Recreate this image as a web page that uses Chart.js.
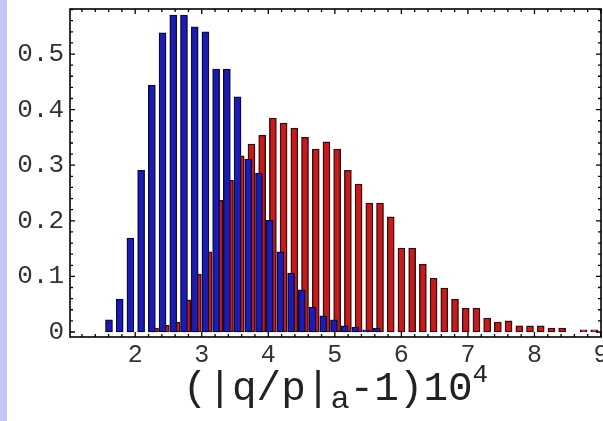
<!DOCTYPE html>
<html>
<head>
<meta charset="utf-8">
<script src="https://cdn.jsdelivr.net/npm/chart.js@4/dist/chart.umd.min.js"></script>
<style>
  html, body { margin: 0; padding: 0; background: #ffffff; }
  #wrap { position: relative; width: 603px; height: 421px; background: #ffffff; }
  #strip { position: absolute; left: 0; top: 0; width: 7px; height: 421px; background: #c6c6f6; }
  canvas { position: absolute; left: 0; top: 0; }
</style>
</head>
<body>
<div id="wrap"><div id="strip"></div><canvas id="c" width="603" height="421"></canvas></div>
<script>
// ---- data ----
const blueBins = [1.606, 1.767, 1.928, 2.089, 2.250, 2.411, 2.572, 2.733, 2.894, 3.055,
                  3.216, 3.377, 3.538, 3.699, 3.860, 4.021, 4.182, 4.343, 4.504, 4.665,
                  4.826, 4.987, 5.148, 5.309, 5.470, 5.631];
const blueValues = [0.022, 0.059, 0.169, 0.291, 0.444, 0.538, 0.570, 0.570, 0.549, 0.540,
                    0.473, 0.473, 0.423, 0.311, 0.286, 0.201, 0.144, 0.106, 0.076, 0.045,
                    0.029, 0.022, 0.011, 0.009, 0.004, 0.007];
const redBins = [2.298, 2.459, 2.620, 2.781, 2.942, 3.103, 3.264, 3.425, 3.586, 3.747,
                 3.908, 4.069, 4.230, 4.391, 4.552, 4.713, 4.874, 5.035, 5.196, 5.357,
                 5.518, 5.679, 5.840, 6.001, 6.162, 6.323, 6.484, 6.645, 6.806, 6.967,
                 7.128, 7.289, 7.450, 7.611, 7.772, 7.933, 8.094, 8.255, 8.416, 8.577,
                 8.738, 8.899];
const redValues = [0.007, 0.012, 0.018, 0.058, 0.104, 0.144, 0.237, 0.273, 0.317, 0.338,
                   0.354, 0.385, 0.376, 0.367, 0.350, 0.329, 0.342, 0.329, 0.291, 0.266,
                   0.232, 0.232, 0.207, 0.151, 0.151, 0.122, 0.097, 0.079, 0.059, 0.043,
                   0.043, 0.025, 0.018, 0.020, 0.011, 0.011, 0.011, 0.007, 0.007, 0.000,
                   0.004, 0.004];
const xTicks = [2, 3, 4, 5, 6, 7, 8, 9];
const xTickLabels = ['2', '3', '4', '5', '6', '7', '8', '9'];
const yTicks = [0, 0.1, 0.2, 0.3, 0.4, 0.5];
const yTickLabels = ['0', '0.1', '0.2', '0.3', '0.4', '0.5'];
const xTitleParts = [['(|q/p|', 'n'], ['a', 'sub'], ['-1)10', 'n'], ['4', 'sup']];

const MONO = "'Liberation Mono', 'DejaVu Sans Mono', monospace";

const frameTicks = {
  id: 'frameTicks',
  afterDraw(chart) {
    const { ctx, chartArea: a, scales: { x, y } } = chart;
    ctx.save();
    ctx.strokeStyle = '#000';
    ctx.lineWidth = 1.6;
    ctx.strokeRect(a.left, a.top, a.right - a.left, a.bottom - a.top);
    ctx.lineWidth = 1.3;
    const tick = (px, horiz, len) => {
      ctx.beginPath();
      if (horiz) {
        ctx.moveTo(px, a.bottom); ctx.lineTo(px, a.bottom - len);
        ctx.moveTo(px, a.top); ctx.lineTo(px, a.top + len);
      } else {
        ctx.moveTo(a.left, px); ctx.lineTo(a.left + len, px);
        ctx.moveTo(a.right, px); ctx.lineTo(a.right - len, px);
      }
      ctx.stroke();
    };
    for (let k = 6; k <= 45; k++) {
      const v = k / 5;
      if (v < x.min || v > x.max) continue;
      tick(x.getPixelForValue(v), true, k % 5 === 0 ? 5 : 3);
    }
    for (let k = 0; k <= 29; k++) {
      const v = k / 50;
      if (v > y.max) continue;
      tick(y.getPixelForValue(v), false, k % 5 === 0 ? 5 : 3);
    }
    // axis title with subscript / superscript
    const base = 400, cx = (a.left + a.right) / 2;
    const fonts = { n: '41px ' + MONO, sub: '32px ' + MONO, sup: '26px ' + MONO };
    const dy = { n: 0, sub: 8, sup: -18 };
    let total = 0;
    xTitleParts.forEach(([t, k]) => { ctx.font = fonts[k]; total += ctx.measureText(t).width; });
    let px = cx - total / 2;
    ctx.fillStyle = '#222';
    ctx.textBaseline = 'alphabetic';
    ctx.textAlign = 'left';
    xTitleParts.forEach(([t, k]) => {
      ctx.font = fonts[k];
      ctx.fillText(t, px, base + dy[k]);
      px += ctx.measureText(t).width;
    });
    ctx.restore();
  }
};

const noPad = s => { s.paddingTop = 0; s.paddingBottom = 0; s.paddingLeft = 0; s.paddingRight = 0; };

new Chart(document.getElementById('c'), {
  type: 'bar',
  data: {
    datasets: [
      {
        label: 'blue',
        data: blueBins.map((b, i) => ({ x: b, y: blueValues[i] })),
        backgroundColor: '#1c1cb4',
        borderColor: '#0a0a3c',
        borderWidth: 1.4,
        borderSkipped: false,
        barThickness: 7,
        order: 0
      },
      {
        label: 'red',
        data: redBins.map((b, i) => ({ x: b, y: redValues[i] })),
        backgroundColor: '#c41c1c',
        borderColor: '#3c0a0a',
        borderWidth: 1.4,
        borderSkipped: false,
        barThickness: 7,
        order: 1
      }
    ]
  },
  options: {
    responsive: false,
    animation: false,
    grouped: false,
    layout: { padding: { left: 0, right: 2, top: 9, bottom: 0 } },
    plugins: { legend: { display: false }, tooltip: { enabled: false } },
    scales: {
      x: {
        type: 'linear',
        min: 1.02,
        max: 9.0,
        offset: false,
        grid: { display: false, drawTicks: false },
        border: { display: false },
        afterBuildTicks: s => { s.ticks = xTicks.map(v => ({ value: v })); },
        afterFit: s => { s.height = 84; noPad(s); },
        ticks: {
          autoSkip: false,
          maxRotation: 0,
          padding: 3,
          color: '#333',
          font: { family: MONO, size: 25 },
          callback: (v, i) => xTickLabels[i]
        }
      },
      y: {
        min: -0.009,
        max: 0.581,
        grid: { display: false, drawTicks: false },
        border: { display: false },
        afterBuildTicks: s => { s.ticks = yTicks.map(v => ({ value: v })); },
        afterFit: s => { s.width = 70; noPad(s); },
        ticks: {
          autoSkip: false,
          padding: 6,
          color: '#333',
          font: { family: MONO, size: 26 },
          callback: (v, i) => yTickLabels[i]
        }
      }
    }
  },
  plugins: [frameTicks]
});
</script>
</body>
</html>
